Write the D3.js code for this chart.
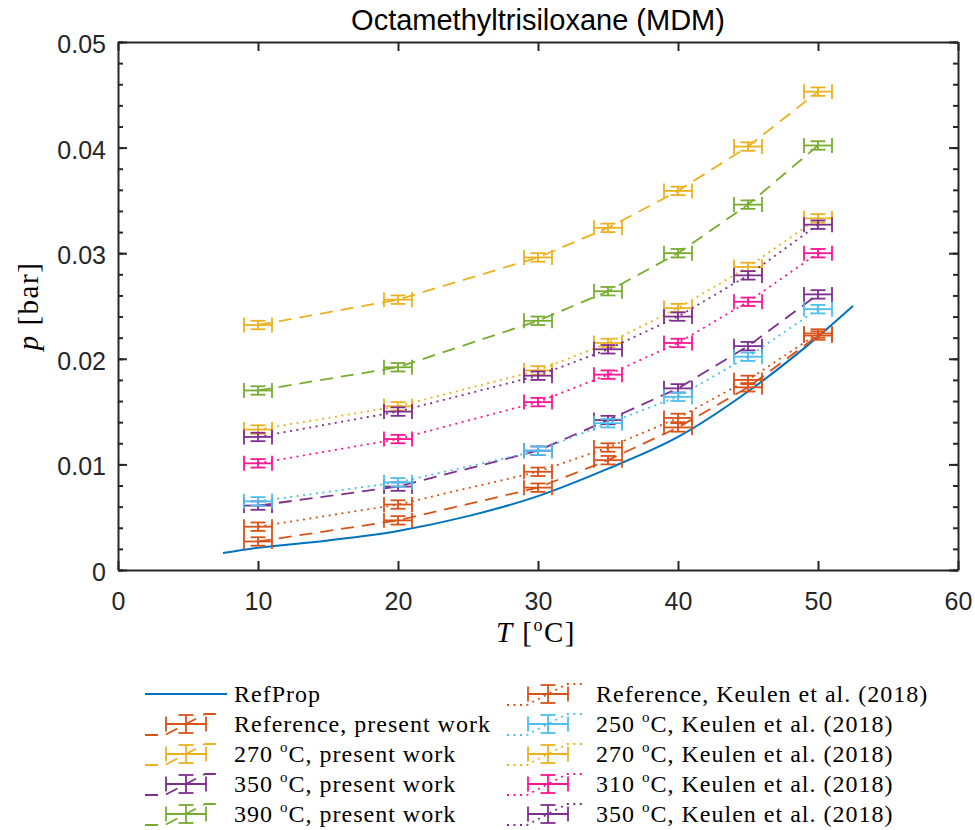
<!DOCTYPE html>
<html>
<head>
<meta charset="utf-8">
<script src="https://cdn.jsdelivr.net/npm/d3@7"></script>
<style>
  body { margin: 0; background: #fff; }
  .tick text { font-family: "Liberation Sans", Arial, sans-serif; font-size: 25px; fill: #262626; }
  .domain, .tick line { stroke: #262626; }
</style>
</head>
<body>
<div class="chart"></div>
<script>
// measurement temperatures [°C]
var temps = [10, 20, 30, 35, 40, 45, 50];

// present work, p [bar]
var refPresent = [0.0027, 0.0047, 0.0078, 0.0104, 0.0135, 0.0173, 0.0222];
var p270Present = [0.0232, 0.0256, 0.0296, 0.0324, 0.0359, 0.0401, 0.0453];
var p350Present = [0.0061, 0.0079, 0.0113, 0.0142, 0.0172, 0.0212, 0.0261];
var p390Present = [0.0170, 0.0192, 0.0236, 0.0264, 0.0300, 0.0346, 0.0402];

// Keulen et al. (2018), p [bar]
var refKeulen = [0.0041, 0.0062, 0.0093, 0.0116, 0.0144, 0.0180, 0.0224];
var p250Keulen = [0.0065, 0.0083, 0.0113, 0.0139, 0.0164, 0.0202, 0.0247];
var p270Keulen = [0.0133, 0.0155, 0.0189, 0.0215, 0.0248, 0.0287, 0.0333];
var p310Keulen = [0.0101, 0.0124, 0.0159, 0.0185, 0.0215, 0.0254, 0.0300];
var p350Keulen = [0.0126, 0.0150, 0.0184, 0.0209, 0.0240, 0.0279, 0.0327];

// RefProp saturation curve
var refPropT = [7.5, 10, 15, 20, 25, 30, 35, 40, 45, 50, 52.5];
var refPropP = [0.0016, 0.0021, 0.0028, 0.0037, 0.0051, 0.0070, 0.0096, 0.0126, 0.0169, 0.0221, 0.0250];

// uncertainties
var errT = 1.0;
var errP = 0.0004;

// axes
var xTicks = [0, 10, 20, 30, 40, 50, 60];
var yTicks = [0, 0.01, 0.02, 0.03, 0.04, 0.05];
var yTickLabels = ['0', '0.01', '0.02', '0.03', '0.04', '0.05'];
var yMinor = d3.range(0, 0.0501, 0.002);

var series = [
  { name: 'Reference, present work', p: refPresent, color: '#D95319', dash: '13,8', col: 0 },
  { name: '270 °C, present work', p: p270Present, color: '#EDB120', dash: '13,8', col: 0 },
  { name: '350 °C, present work', p: p350Present, color: '#7E2F8E', dash: '13,8', col: 0 },
  { name: '390 °C, present work', p: p390Present, color: '#77AC30', dash: '13,8', col: 0 },
  { name: 'Reference, Keulen et al. (2018)', p: refKeulen, color: '#D95319', dash: '2,4.5', col: 1 },
  { name: '250 °C, Keulen et al. (2018)', p: p250Keulen, color: '#4DBEEE', dash: '2,4.5', col: 1 },
  { name: '270 °C, Keulen et al. (2018)', p: p270Keulen, color: '#EDB120', dash: '2,4.5', col: 1 },
  { name: '310 °C, Keulen et al. (2018)', p: p310Keulen, color: '#FF1493', dash: '2,4.5', col: 1 },
  { name: '350 °C, Keulen et al. (2018)', p: p350Keulen, color: '#7E2F8E', dash: '2,4.5', col: 1 }
];

var svg = d3.select('.chart')
  .append('svg')
    .attr('width', 975)
    .attr('height', 830);

var x = d3.scaleLinear().domain([0, 60]).range([118, 958]);
var y = d3.scaleLinear().domain([0, 0.05]).range([570, 42]);
var cap = 15;

// title
svg.append('text')
  .attr('x', 538).attr('y', 30)
  .attr('text-anchor', 'middle')
  .style('font-family', '"Liberation Sans", Arial, sans-serif')
  .style('font-size', '29px')
  .text('Octamethyltrisiloxane (MDM)');

// RefProp
var line = d3.line().x(d => x(d[0])).y(d => y(d[1])).curve(d3.curveMonotoneX);
svg.append('path')
  .datum(d3.zip(refPropT, refPropP))
  .attr('d', line)
  .attr('fill', 'none')
  .attr('stroke', '#0072BD')
  .attr('stroke-width', 2);

// draws a both-direction error bar centred at (cx, cy)
function errBar(g, cx, cy, x0, x1, y0, y1, color) {
  var segs = [
    [x0, cy, x1, cy],
    [x0, cy - cap / 2, x0, cy + cap / 2],
    [x1, cy - cap / 2, x1, cy + cap / 2],
    [cx, y0, cx, y1],
    [cx - cap / 2, y0, cx + cap / 2, y0],
    [cx - cap / 2, y1, cx + cap / 2, y1]
  ];
  g.selectAll(null)
    .data(segs)
    .enter()
    .append('line')
      .attr('x1', s => s[0]).attr('y1', s => s[1])
      .attr('x2', s => s[2]).attr('y2', s => s[3])
      .attr('stroke', color)
      .attr('stroke-width', 1.8);
}

var straight = d3.line().x(d => x(d[0])).y(d => y(d[1]));
series.forEach(function (s) {
  var g = svg.append('g');
  var pts = d3.zip(temps, s.p);
  g.append('path')
    .datum(pts)
    .attr('d', straight)
    .attr('fill', 'none')
    .attr('stroke', s.color)
    .attr('stroke-width', 1.8)
    .attr('stroke-dasharray', s.dash);
  pts.forEach(function (d) {
    errBar(g, x(d[0]), y(d[1]), x(d[0] - errT), x(d[0] + errT),
      y(d[1] + errP), y(d[1] - errP), s.color);
  });
});

// axes, ticks pointing inward
function styleAxis(g) {
  g.select('.domain').attr('stroke-width', 2);
  g.selectAll('.tick line').attr('stroke-width', 2);
}
svg.append('g')
  .attr('transform', 'translate(0,570)')
  .call(d3.axisBottom(x).tickValues(xTicks).tickSizeInner(-9).tickSizeOuter(0).tickPadding(22))
  .call(styleAxis);
svg.append('g')
  .attr('transform', 'translate(0,42)')
  .call(d3.axisTop(x).tickValues(xTicks).tickSizeInner(-9).tickSizeOuter(0).tickFormat(''))
  .call(styleAxis);
svg.append('g')
  .attr('transform', 'translate(118,0)')
  .call(d3.axisLeft(y).tickValues(yTicks).tickSizeInner(-9).tickSizeOuter(0).tickPadding(12)
    .tickFormat((d, i) => yTickLabels[i]))
  .call(styleAxis)
  .selectAll('text').attr('dy', '0.42em');
svg.append('g')
  .attr('transform', 'translate(958,0)')
  .call(d3.axisRight(y).tickValues(yTicks).tickSizeInner(-9).tickSizeOuter(0).tickFormat(''))
  .call(styleAxis);
[[118, d3.axisLeft], [958, d3.axisRight]].forEach(function (a) {
  svg.append('g')
    .attr('transform', 'translate(' + a[0] + ',0)')
    .call(a[1](y).tickValues(yMinor).tickSizeInner(-5).tickSizeOuter(0).tickFormat(''))
    .call(styleAxis)
    .select('.domain').remove();
});

// axis labels
var serif = '"Liberation Serif", "DejaVu Serif", serif';
var xl = svg.append('text')
  .attr('x', 536).attr('y', 642)
  .attr('text-anchor', 'middle')
  .style('font-family', serif).style('font-size', '29px')
  .style('letter-spacing', '1.5px');
xl.append('tspan').style('font-style', 'italic').text('T');
xl.append('tspan').text(' [');
xl.append('tspan').attr('font-size', '18px').attr('dy', -11).text('o');
xl.append('tspan').attr('dy', 11).text('C]');

svg.append('text')
  .attr('transform', 'translate(38,306) rotate(-90)')
  .attr('text-anchor', 'middle')
  .style('font-family', serif).style('font-size', '29px')
  .style('letter-spacing', '1.5px')
  .call(t => t.append('tspan').style('font-style', 'italic').text('p'))
  .call(t => t.append('tspan').text(' [bar]'));

// legend
function legendText(sel, label) {
  var parts = label.split('°');
  sel.append('tspan').text(parts[0]);
  if (parts.length > 1) {
    sel.append('tspan').attr('font-size', '15px').attr('dy', -10).text('o');
    sel.append('tspan').attr('dy', 10).text(parts[1]);
  }
}

var leg = svg.append('g')
  .style('font-family', serif).style('font-size', '24px')
  .style('letter-spacing', '1px');
leg.append('line')
  .attr('x1', 145).attr('x2', 227).attr('y1', 694).attr('y2', 694)
  .attr('stroke', '#0072BD').attr('stroke-width', 2);
leg.append('text').attr('x', 234).attr('y', 702).call(t => legendText(t, 'RefProp'));

var colX = [145, 507];
series.forEach(function (s) {
  var idx = s.col === 0 ? series.filter(d => d.col === 0).indexOf(s) + 1 : series.filter(d => d.col === 1).indexOf(s);
  var cy = 694 + idx * 30;
  var x0 = colX[s.col];
  var g = leg.append('g');
  g.append('path')
    .attr('d', d3.line()([[x0, cy + 11], [x0 + 20, cy + 11], [x0 + 60, cy - 10], [x0 + 78, cy - 10]]))
    .attr('fill', 'none')
    .attr('stroke', s.color)
    .attr('stroke-width', 1.8)
    .attr('stroke-dasharray', s.dash);
  var cx = x0 + 41;
  errBar(g, cx, cy, cx - 20, cx + 20, cy - 9, cy + 9, s.color);
  g.append('text').attr('x', x0 + 89).attr('y', cy + 8).call(t => legendText(t, s.name));
});
</script>
</body>
</html>
